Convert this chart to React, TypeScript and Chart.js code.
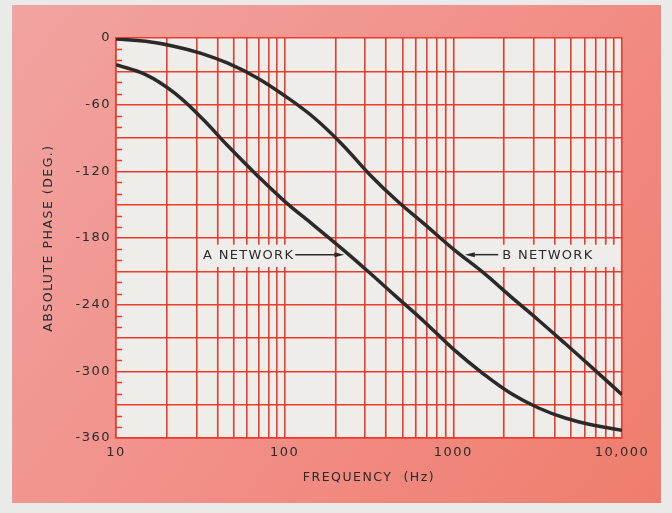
import React, { useEffect, useRef } from "react";
import { Chart, registerables } from "chart.js";

Chart.register(...registerables);

// ---- data ----
const freqHz = [10, 15, 22, 32, 46, 68, 100, 150, 220, 320, 460, 680, 1000, 1500, 2200, 3200, 4600, 6800, 10000];
const phaseA = [-24, -33, -49, -71.5, -97, -123, -147, -169, -190, -211.5, -233, -256, -280, -302, -320, -333, -342, -348.6, -353];
const phaseB = [-1, -3, -7.4, -13.8, -22.7, -35.5, -52, -72, -96, -123, -146, -168, -190, -211, -233, -254, -275, -298, -321];
const seriesNames = ["A NETWORK", "B NETWORK"];

const xTickValues = [10, 20, 30, 40, 50, 60, 70, 80, 90, 100, 200, 300, 400, 500, 600, 700, 800, 900, 1000, 2000, 3000, 4000, 5000, 6000, 7000, 8000, 9000, 10000];
const xTickLabels: Record<number, string> = { 10: "10", 100: "100", 1000: "1000", 10000: "10,000" };
const yMin = -360;
const yMax = 0;
const yGridStep = 30;
const yLabelStep = 60;
const yMinorStep = 10;

// ---- annotation placement (data coordinates) ----
const labelA = { text: "A NETWORK", boxFrom: 31.5, boxTo: 137, textAt: 32.8, tipAt: 226, y: -195, side: "right" };
const labelB = { text: "B NETWORK", boxFrom: 1890, boxTo: 9300, textAt: 1950, tipAt: 1170, y: -195, side: "left" };
const boxTop = -186;
const boxBottom = -206;

// ---- styles ----
const FONT = "'DejaVu Sans', sans-serif";
const INK = "#2b2b2b";
const GRID = "#ee3a2a";
const CURVE = "#2a2a2a";

const paperPlugin = {
  id: "paper",
  beforeDraw(chart: any) {
    const { ctx, chartArea: a, width, height } = chart;
    ctx.save();
    ctx.fillStyle = "#eaeae8";
    ctx.fillRect(0, 0, width, height);
    const g = ctx.createLinearGradient(12, 5, 661, 503);
    g.addColorStop(0, "#f1a4a0");
    g.addColorStop(0.5, "#f2908a");
    g.addColorStop(1, "#ef7d6c");
    ctx.fillStyle = g;
    ctx.fillRect(12, 5, 649, 498);
    ctx.fillStyle = "#eeede9";
    ctx.fillRect(a.left, a.top, a.right - a.left, a.bottom - a.top);
    ctx.restore();
    ctx.letterSpacing = "1.5px";
  },
  beforeDatasetsDraw(chart: any) {
    const { ctx, chartArea: a } = chart;
    const xs = chart.scales.x;
    const ys = chart.scales.y;
    ctx.save();
    // minor ticks on the phase axis
    ctx.strokeStyle = GRID;
    ctx.lineWidth = 1.5;
    ctx.beginPath();
    for (let v = yMax; v >= yMin; v -= yMinorStep) {
      if (v % yGridStep === 0) continue;
      const py = Math.round(ys.getPixelForValue(v)) + 0.5;
      ctx.moveTo(a.left, py);
      ctx.lineTo(a.left + 6, py);
    }
    ctx.stroke();

    const yTop = ys.getPixelForValue(boxTop);
    const yBot = ys.getPixelForValue(boxBottom);
    [labelA, labelB].forEach((lab) => {
      const x0 = xs.getPixelForValue(lab.boxFrom);
      const x1 = xs.getPixelForValue(lab.boxTo);
      ctx.fillStyle = "#eeede9";
      ctx.fillRect(x0, yTop, x1 - x0, yBot - yTop);

      const ty = ys.getPixelForValue(lab.y);
      ctx.font = `13px ${FONT}`;
      ctx.letterSpacing = "1.3px";
      ctx.fillStyle = INK;
      ctx.textBaseline = "middle";
      ctx.textAlign = "left";
      const tx = xs.getPixelForValue(lab.textAt);
      ctx.fillText(lab.text, tx, ty + 0.5);
      const tw = ctx.measureText(lab.text).width;
      const tip = xs.getPixelForValue(lab.tipAt);
      const start = lab.side === "right" ? tx + tw + 1 : tx - 4;
      const dir = lab.side === "right" ? 1 : -1;
      ctx.strokeStyle = INK;
      ctx.lineWidth = 1.5;
      ctx.beginPath();
      ctx.moveTo(start, ty);
      ctx.lineTo(tip - dir * 8, ty);
      ctx.stroke();
      ctx.beginPath();
      ctx.moveTo(tip, ty);
      ctx.lineTo(tip - dir * 10, ty - 2.5);
      ctx.lineTo(tip - dir * 10, ty + 2.5);
      ctx.closePath();
      ctx.fillStyle = INK;
      ctx.fill();
    });
    ctx.restore();
  },
};

export default function App() {
  const canvasRef = useRef<HTMLCanvasElement | null>(null);

  useEffect(() => {
    document.body.style.margin = "0";
    const canvas = canvasRef.current;
    if (!canvas) return;
    const chart = new Chart(canvas, {
      type: "line",
      data: {
        datasets: [
          {
            label: seriesNames[0],
            data: freqHz.map((f, i) => ({ x: f, y: phaseA[i] })),
            borderColor: CURVE,
            borderWidth: 3.5,
            pointRadius: 0,
            tension: 0.4,
            fill: false,
          },
          {
            label: seriesNames[1],
            data: freqHz.map((f, i) => ({ x: f, y: phaseB[i] })),
            borderColor: CURVE,
            borderWidth: 3.5,
            pointRadius: 0,
            tension: 0.4,
            fill: false,
          },
        ],
      },
      options: {
        animation: false,
        responsive: false,
        devicePixelRatio: 1,
        layout: { padding: { left: 0, top: 38, right: 50, bottom: 0 } },
        plugins: { legend: { display: false }, tooltip: { enabled: false } },
        scales: {
          x: {
            type: "logarithmic",
            min: 10,
            max: 10000,
            afterBuildTicks: (s: any) => {
              s.ticks = xTickValues.map((v) => ({ value: v }));
            },
            afterFit: (s: any) => {
              s.height = 75;
            },
            grid: { color: GRID, lineWidth: 1.6, drawTicks: false },
            border: { color: GRID, width: 1.6 },
            ticks: {
              autoSkip: false,
              maxRotation: 0,
              padding: 7,
              color: INK,
              font: { family: FONT, size: 13 },
              callback: (v: any) => xTickLabels[Number(v)] ?? "",
            },
            title: {
              display: true,
              text: "FREQUENCY  (Hz)",
              color: INK,
              font: { family: FONT, size: 12.5 },
              padding: { top: 0, bottom: 28 },
            },
          },
          y: {
            min: yMin,
            max: yMax,
            afterFit: (s: any) => {
              s.width = 116;
            },
            grid: { color: GRID, lineWidth: 1.6, drawTicks: false },
            border: { color: GRID, width: 1.6 },
            ticks: {
              stepSize: yGridStep,
              padding: 5,
              color: INK,
              font: { family: FONT, size: 13 },
              callback: (v: any) => (Number(v) % yLabelStep === 0 ? String(v) : ""),
            },
            title: {
              display: true,
              text: "ABSOLUTE PHASE (DEG.)",
              color: INK,
              font: { family: FONT, size: 12.5 },
              padding: { top: 41, bottom: 0 },
            },
          },
        },
      },
      plugins: [paperPlugin],
    } as any);
    return () => chart.destroy();
  }, []);

  return (
    <div style={{ width: 672, height: 513 }}>
      <canvas ref={canvasRef} width={672} height={513} style={{ display: "block", width: 672, height: 513 }} />
    </div>
  );
}
